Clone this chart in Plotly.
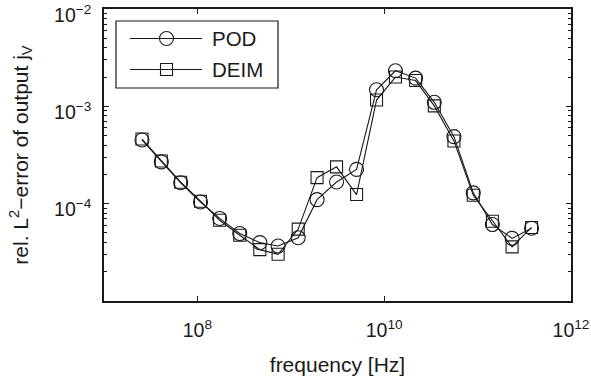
import plotly.graph_objects as go

freq_hz = [2.55e7, 4.11e7, 6.62e7, 1.08e8, 1.73e8, 2.84e8, 4.66e8, 7.31e8,
           1.20e9, 1.91e9, 3.09e9, 5.06e9, 8.28e9, 1.32e10, 2.17e10, 3.44e10,
           5.58e10, 8.99e10, 1.44e11, 2.34e11, 3.78e11]
err_pod = [4.51e-4, 2.69e-4, 1.64e-4, 1.04e-4, 7.05e-5, 4.93e-5, 3.98e-5, 3.67e-5,
           4.47e-5, 1.10e-4, 1.67e-4, 2.25e-4, 1.48e-3, 2.32e-3, 1.95e-3, 1.10e-3,
           4.88e-4, 1.29e-4, 6.1e-5, 4.4e-5, 5.6e-5]
err_deim = [4.61e-4, 2.74e-4, 1.66e-4, 1.06e-4, 6.76e-5, 4.74e-5, 3.37e-5, 3.02e-5,
            5.48e-5, 1.85e-4, 2.39e-4, 1.24e-4, 1.16e-3, 2.00e-3, 1.84e-3, 1.01e-3,
            4.41e-4, 1.22e-4, 6.6e-5, 3.6e-5, 5.7e-5]
series_names = ["POD", "DEIM"]

x_tickvals = [1e8, 1e10, 1e12]
x_ticktext = ["10<sup>8</sup>", "10<sup>10</sup>", "10<sup>12</sup>"]
y_tickvals = [1e-4, 1e-3, 1e-2]
y_ticktext = ["10<sup>\u22124</sup>", "10<sup>\u22123</sup>", "10<sup>\u22122</sup>"]
y_minor = [m * 10.0 ** e for e in (-5, -4, -3) for m in range(2, 10)]

FONT = "Liberation Sans, Arial, Helvetica, sans-serif"
INK = "#1a1a1a"
W, H = 591, 379
ML, MR, MT, MB = 104, 20, 9, 78
PW, PH = W - ML - MR, H - MT - MB


def fx(p):
    return (p - ML) / PW


def fy(p):
    return 1 - (p - MT) / PH


fig = go.Figure()
fig.add_trace(go.Scatter(
    x=freq_hz, y=err_pod, name=series_names[0], mode="lines+markers",
    line=dict(color=INK, width=1.1), showlegend=False,
    marker=dict(symbol="circle-open", size=14, color=INK, line=dict(width=1.1, color=INK)),
))
fig.add_trace(go.Scatter(
    x=freq_hz, y=err_deim, name=series_names[1], mode="lines+markers",
    line=dict(color=INK, width=1.1), showlegend=False,
    marker=dict(symbol="square-open", size=12, color=INK, line=dict(width=1.1, color=INK)),
))

# legend box drawn in the MATLAB style (long sample lines)
shapes = [dict(type="rect", xref="paper", yref="paper",
               x0=fx(116), x1=fx(278), y0=fy(88), y1=fy(21),
               fillcolor="white", line=dict(color=INK, width=1.2), layer="above")]
annotations = []
rows = [38.5, 69.5]
for i, (name, ry) in enumerate(zip(series_names, rows)):
    shapes.append(dict(type="line", xref="paper", yref="paper",
                       x0=fx(130), x1=fx(202), y0=fy(ry), y1=fy(ry),
                       line=dict(color=INK, width=1.1), layer="above"))
    if i == 0:
        shapes.append(dict(type="circle", xref="paper", yref="paper",
                           x0=fx(159.5), x1=fx(173.5), y0=fy(ry + 7), y1=fy(ry - 7),
                           line=dict(color=INK, width=1.1), layer="above"))
    else:
        shapes.append(dict(type="rect", xref="paper", yref="paper",
                           x0=fx(160.5), x1=fx(172.5), y0=fy(ry + 6), y1=fy(ry - 6),
                           line=dict(color=INK, width=1.1), layer="above"))
    annotations.append(dict(text=name, xref="paper", yref="paper",
                            x=fx(210), y=fy(ry), xanchor="left", yanchor="middle",
                            showarrow=False, font=dict(size=20.5, color=INK, family=FONT)))

fig.update_layout(
    width=W, height=H,
    margin=dict(l=ML, r=MR, t=MT, b=MB),
    paper_bgcolor="white", plot_bgcolor="white",
    font=dict(family=FONT, size=19.5, color=INK),
    showlegend=False, shapes=shapes, annotations=annotations,
)
fig.update_xaxes(
    type="log", range=[7, 12], automargin=False,
    tickmode="array", tickvals=x_tickvals, ticktext=x_ticktext,
    ticks="inside", ticklen=5, tickwidth=1, tickcolor=INK,
    ticklabeloverflow="allow", ticklabelstandoff=11,
    showline=True, linecolor=INK, linewidth=1.5, mirror="ticks",
    showgrid=False, zeroline=False,
    title=dict(text="frequency [Hz]", font=dict(size=21), standoff=17),
)
fig.update_yaxes(
    type="log", range=[-5, -2], automargin=False,
    tickmode="array", tickvals=y_tickvals, ticktext=y_ticktext,
    ticks="inside", ticklen=5, tickwidth=1, tickcolor=INK,
    ticklabeloverflow="allow", ticklabelstandoff=7, ticklabelshift=6,
    minor=dict(tickmode="array", tickvals=y_minor, ticks="inside", ticklen=3,
               tickwidth=1, tickcolor=INK, showgrid=False),
    showline=True, linecolor=INK, linewidth=1.5, mirror="ticks",
    showgrid=False, zeroline=False,
    title=dict(text="rel. L<sup>2</sup>\u2212error of output j<sub>V</sub>",
               font=dict(size=21), standoff=20),
)

fig.write_html("out.html")
